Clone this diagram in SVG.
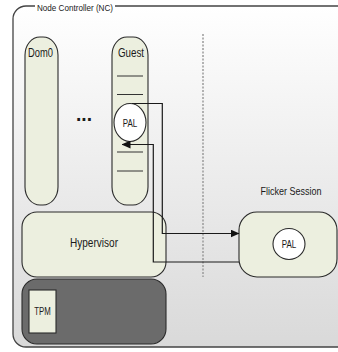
<svg xmlns="http://www.w3.org/2000/svg" width="338" height="352" viewBox="0 0 338 352">
<style>
text{font-family:"Liberation Sans Narrow","Liberation Sans",Arial,sans-serif;fill:#1a1a1a;text-anchor:middle}
.node{fill:#ecefdf;stroke:#2a2a2a;stroke-width:1.1}
.pal{fill:#ffffff;stroke:#2a2a2a;stroke-width:1.1}
.sep{stroke:#333;stroke-width:1}
.conn{fill:none;stroke:#1a1a1a;stroke-width:1.2}
</style>
<defs>
<linearGradient id="bg" x1="0" y1="0" x2="0" y2="1">
<stop offset="0" stop-color="#ffffff"/>
<stop offset="1" stop-color="#d9d9d9"/>
</linearGradient>
<marker id="ah" markerWidth="9" markerHeight="8" refX="8.5" refY="4" orient="auto" markerUnits="userSpaceOnUse">
<path d="M0,0 L9,4 L0,8 Z" fill="#111"/>
</marker>
</defs>
<rect width="338" height="352" fill="#ffffff"/>
<g id="container">
<rect x="13" y="6" width="345" height="341" rx="13" fill="url(#bg)" stroke="#444" stroke-width="1.3"/>
<rect x="35" y="1" width="80" height="10" fill="#ffffff"/>
<text x="75" y="10.5" font-size="9.5" textLength="76" lengthAdjust="spacingAndGlyphs">Node Controller (NC)</text>
</g>
<g id="dashed-separator">
<line x1="203" y1="34" x2="203" y2="277" stroke="#9a9a9a" stroke-width="1.5" stroke-dasharray="2,1.5"/>
</g>
<g id="dom0">
<rect class="node" x="25" y="37" width="33" height="168" rx="15" ry="18"/>
<text x="40.5" y="56.5" font-size="13" textLength="25" lengthAdjust="spacingAndGlyphs">Dom0</text>
</g>
<g id="ellipsis">
<text x="84" y="121" font-size="20" font-weight="bold" textLength="16" lengthAdjust="spacingAndGlyphs">...</text>
</g>
<g id="guest">
<rect class="node" x="112" y="37" width="36" height="168" rx="15" ry="18"/>
<text x="131" y="56.5" font-size="13" textLength="26" lengthAdjust="spacingAndGlyphs">Guest</text>
<line class="sep" x1="117" y1="76" x2="143" y2="76"/>
<line class="sep" x1="117" y1="94.5" x2="143" y2="94.5"/>
<line class="sep" x1="117" y1="152" x2="143" y2="152"/>
<line class="sep" x1="117" y1="171" x2="143" y2="171"/>
</g>
<g id="guest-pal">
<ellipse class="pal" cx="130" cy="122.5" rx="16" ry="19"/>
<text x="130" y="127.3" font-size="10.5" textLength="14.5" lengthAdjust="spacingAndGlyphs">PAL</text>
</g>
<g id="hypervisor">
<rect class="node" x="22" y="212" width="144" height="65" rx="15"/>
<text x="94" y="246.7" font-size="13" textLength="48" lengthAdjust="spacingAndGlyphs">Hypervisor</text>
</g>
<g id="hardware">
<rect x="22" y="279" width="144" height="65" rx="15" fill="#6b6b6b" stroke="#2a2a2a" stroke-width="1.1"/>
</g>
<g id="tpm">
<rect class="node" x="29" y="290" width="27" height="43"/>
<text x="42.5" y="315" font-size="10.5" textLength="16.5" lengthAdjust="spacingAndGlyphs">TPM</text>
</g>
<g id="flicker-session">
<text x="291" y="195" font-size="11.5" textLength="61" lengthAdjust="spacingAndGlyphs">Flicker Session</text>
<rect class="node" x="239" y="212" width="98" height="65" rx="18"/>
</g>
<g id="flicker-pal">
<ellipse class="pal" cx="289" cy="244" rx="16" ry="15.5"/>
<text x="289" y="248" font-size="10.5" textLength="14.5" lengthAdjust="spacingAndGlyphs">PAL</text>
</g>
<g id="connectors">
<polyline class="conn" points="132,103.5 162.3,103.5 162.3,233.5 239,233.5" marker-end="url(#ah)"/>
<polyline class="conn" points="239,262 153.3,262 153.3,144.5 122,144.5" marker-end="url(#ah)"/>
</g>
</svg>
